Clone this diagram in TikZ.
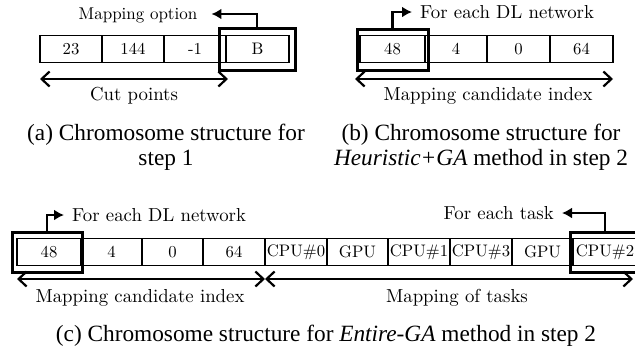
\documentclass[tikz,border=0pt]{standalone}
\usepackage{fontspec}
\newfontfamily\capfont{Liberation Serif}
\newfontfamily\lmten{lmroman10-regular}[Extension = .otf]
\usepackage{tikz}
\usetikzlibrary{arrows.meta}
\tikzset{cell/.style = {shape = rectangle, draw, line width = 1.4pt, minimum height = 27pt, inner sep = 0pt, font = \lmten\fontsize{16.7}{20}\selectfont}}
\tikzset{pick/.style = {shape = rectangle, draw, line width = 3pt, minimum width = 71pt, minimum height = 41pt}}
\tikzset{note/.style = {inner xsep = 8pt, inner ysep = 0pt, text depth = 0pt, font = \lmten\fontsize{18.8}{22}\selectfont}}
\tikzset{span/.style = {{Straight Barb[length = 8pt, width = 15pt]}-{Straight Barb[length = 8pt, width = 15pt]}, line width = 2.2pt}}
\tikzset{lead/.style = {-{Latex[length = 10pt, width = 11pt]}, line width = 2.2pt}}
\tikzset{caption/.style = {font = \capfont\fontsize{23.3}{25}\selectfont}}

\begin{document}
\begin{tikzpicture}[x = 1pt, y = -1pt]
	\useasboundingbox[fill = white] (0, 0) rectangle (635, 349);

	% (a) step 1
	\node[cell, minimum width = 62pt] (a1) at (71, 49) {23};
	\node[cell, minimum width = 62pt] (a2) at (133, 49) {144};
	\node[cell, minimum width = 62pt] (a3) at (195, 49) {-1};
	\node[cell, minimum width = 63pt] (a4) at (257.5, 49) {B};
	\node[pick, minimum width = 76pt, minimum height = 42pt] (ka) at (257, 49) {};
	\node[note, inner xsep = 14pt, font = \lmten\fontsize{17}{20}\selectfont] (optA) at (138, 14) {Mapping option};
	\coordinate (cutL) at (40, 79);
	\coordinate (cutR) at (228, 79);
	\node[note] (cut) at (134, 94) {Cut points};
	\node[caption, align = center] (capA) at (166, 147) {(a) Chromosome structure for\\step 1};

	\draw[lead] (ka.north) |- (optA.east);
	\draw[span] (cutL) -- (cutR);

	% (b) Heuristic+GA
	\node[cell, minimum width = 65pt] (b1) at (392.5, 49) {48};
	\node[cell, minimum width = 62pt] (b2) at (456, 49) {4};
	\node[cell, minimum width = 63pt] (b3) at (518.5, 49) {0};
	\node[cell, minimum width = 63pt] (b4) at (581.5, 49) {64};
	\node[pick] (kb) at (392.5, 50) {};
	\node[note, anchor = west] (netB) at (412, 12) {For each DL network};
	\coordinate (idxBL) at (355, 79);
	\coordinate (idxBR) at (613, 79);
	\node[note] (idxB) at (488, 94) {Mapping candidate index};
	\node[caption, align = center] (capB) at (481, 147) {(b) Chromosome structure for\\{\itshape Heuristic+GA} method in step 2};

	\draw[lead] (kb.north) |- (netB.west);
	\draw[span] (idxBL) -- (idxBR);

	% (c) Entire-GA
	\node[cell, minimum width = 64pt] (c1) at (49, 252) {48};
	\node[cell, minimum width = 61pt] (c2) at (111.5, 252) {4};
	\node[cell, minimum width = 61pt] (c3) at (172.5, 252) {0};
	\node[cell, minimum width = 62pt] (c4) at (234, 252) {64};
	\node[cell, minimum width = 62pt] (c5) at (296, 252) {CPU\#0};
	\node[cell, minimum width = 61pt] (c6) at (357.5, 252) {GPU};
	\node[cell, minimum width = 62pt] (c7) at (419, 252) {CPU\#1};
	\node[cell, minimum width = 62pt] (c8) at (481, 252) {CPU\#3};
	\node[cell, minimum width = 61pt] (c9) at (542.5, 252) {GPU};
	\node[cell, minimum width = 64pt] (c10) at (605, 252) {CPU\#2};
	\node[pick, minimum width = 70pt, minimum height = 40pt] (kc1) at (47, 252) {};
	\node[pick, minimum width = 70pt, minimum height = 40pt] (kc2) at (605, 252) {};
	\node[note, anchor = west] (netC) at (64, 215) {For each DL network};
	\node[note, anchor = east] (taskC) at (562, 213) {For each task};
	\coordinate (idxCL) at (17, 279);
	\coordinate (idxCR) at (265, 279);
	\coordinate (mapCR) at (633, 279);
	\node[note] (idxC) at (140, 296) {Mapping candidate index};
	\node[note] (mapC) at (457, 296) {Mapping of tasks};
	\node[caption, anchor = base] (capC) at (326, 341) {(c) Chromosome structure for \textit{Entire-GA} method in step 2};

	\draw[lead] (kc1.north) |- (netC.west);
	\draw[lead] (kc2.north) |- (taskC.east);
	\draw[span] (idxCL) -- (idxCR);
	\draw[span] (idxCR) -- (mapCR);
\end{tikzpicture}
\end{document}
